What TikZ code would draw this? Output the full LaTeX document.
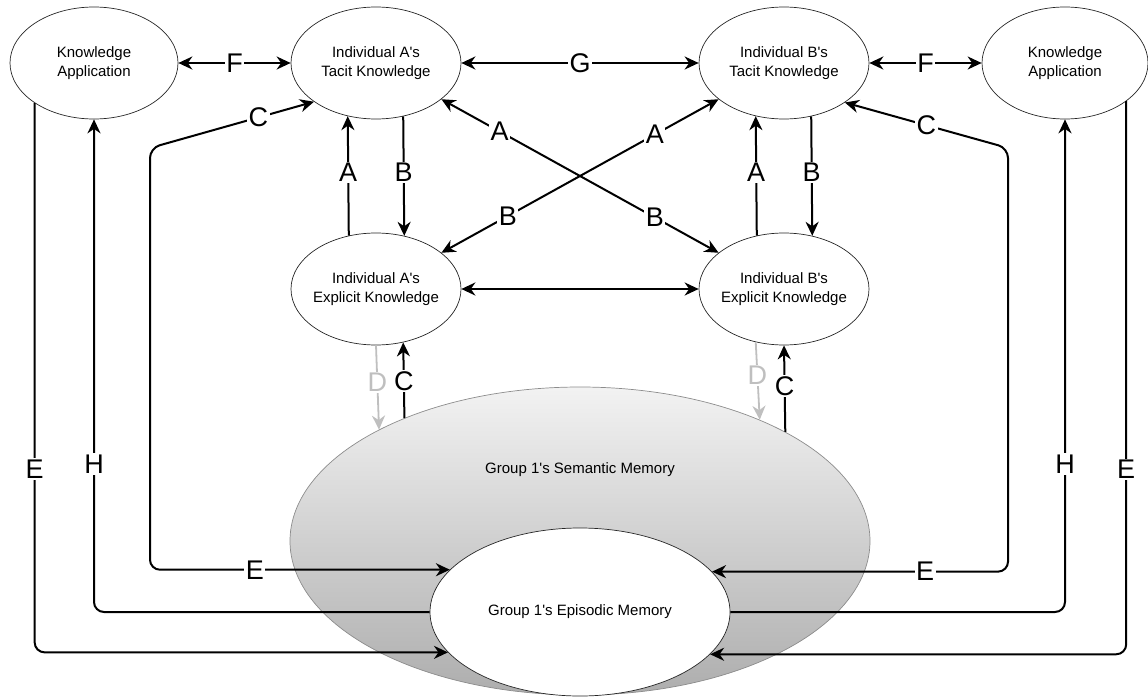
\documentclass[tikz,border=0pt]{standalone}
\usepackage{fontspec}
\setmainfont{Liberation Sans}
\usetikzlibrary{arrows.meta,shapes.geometric}
\newcommand{\apos}{\textquotesingle}
\begin{document}
\begin{tikzpicture}[x=1pt,y=-1pt,
  >={Stealth[length=14pt,width=13pt,inset=4.5pt]},
  ell/.style={ellipse,draw=black!85,line width=0.7pt,inner xsep=-20pt,inner ysep=0pt,align=center,
    font=\fontsize{15}{19}\selectfont,minimum width=170pt,minimum height=112pt},
  conn/.style={line width=2pt,rounded corners=10pt},
  lbl/.style={font=\fontsize{27}{27}\selectfont,fill=white,inner sep=1.5pt,sharp corners},
  dconn/.style={line width=1.8pt,draw=black!25},
  dlbl/.style={lbl,text=black!25}]
\useasboundingbox (0,0) rectangle (1148,698);

% big memory ellipses
\node[ellipse,draw=black!45,line width=0.7pt,top color=black!5,bottom color=black!32,
      minimum width=580pt,minimum height=308pt,inner sep=0pt] (sem) at (580,541) {};
\node[font=\fontsize{15}{19}\selectfont] (semlabel) at (580,470) {Group 1\apos s Semantic Memory};
\node[ell,fill=white,minimum width=300pt,minimum height=168pt] (ep) at (580,612) {Group 1\apos s Episodic Memory};

% knowledge nodes
\node[ell,minimum width=168pt] (kal) at (94,63) {Knowledge\\Application};
\node[ell] (ta) at (376,63) {Individual A\apos s\\Tacit Knowledge};
\node[ell] (tb) at (784,63) {Individual B\apos s\\Tacit Knowledge};
\node[ell,minimum width=166pt] (kar) at (1065,63) {Knowledge\\Application};
\node[ell] (ea) at (376,289) {Individual A\apos s\\Explicit Knowledge};
\node[ell] (eb) at (784,289) {Individual B\apos s\\Explicit Knowledge};

% horizontal links
\draw[conn,<->] (kal) -- node[lbl]{F} (ta);
\draw[conn,<->] (tb) -- node[lbl]{F} (kar);
\draw[conn,<->] (ta) -- node[lbl]{G} (tb);
\draw[conn,<->] (ea) -- (eb);

% vertical A/B
\draw[conn,->] (ea.117.9) -- node[lbl,pos=0.53]{A} (ta.242.1);
\draw[conn,->] (ta.297.9) -- node[lbl,pos=0.47]{B} (ea.62.1);
\draw[conn,->] (eb.117.9) -- node[lbl,pos=0.53]{A} (tb.242.1);
\draw[conn,->] (tb.297.9) -- node[lbl,pos=0.47]{B} (eb.62.1);

% crossing links
\draw[conn,<->] (ta) -- node[lbl,pos=0.21]{A} node[lbl,pos=0.77]{B} (eb);
\draw[conn,<->] (ea) -- node[lbl,pos=0.24]{B} node[lbl,pos=0.77]{A} (tb);

% left side routes
\coordinate (xl1) at (150,148);
\draw[conn,<->] (ta.212.4) -- node[lbl,pos=0.34]{C} (xl1) -- (xl1 |- ep.162.1) -- node[lbl,pos=0.35]{E} (ep.162.1);
\draw[conn,->] (ep.west) -- (ep.west -| kal.south) -- node[lbl,pos=0.3]{H} (kal.south);
\draw[conn,->] (kal.214.1) -- node[lbl,pos=0.666]{E} (kal.214.1 |- ep.197.9) -- (ep.197.9);

% right side routes
\coordinate (xr1) at (1008,148);
\draw[conn,<->] (tb.327.6) -- node[lbl,pos=0.5]{C} (xr1) -- (xr1 |- ep.17.9) -- node[lbl,pos=0.28]{E} (ep.17.9);
\draw[conn,->] (ep.east) -- (ep.east -| kar.south) -- node[lbl,pos=0.3]{H} (kar.south);
\draw[conn,->] (kar.328.1) -- node[lbl,pos=0.666]{E} (kar.328.1 |- ep.342.1) -- (ep.342.1);

% explicit <-> semantic
\draw[dconn,->] (ea.south) -- node[dlbl,pos=0.44]{D} (sem.151.8);
\draw[conn,->] (sem.145.2) -- node[lbl,pos=0.49]{C} (ea.297.9);
\draw[dconn,->] (eb.242.1) -- node[dlbl,pos=0.43]{D} (sem.34.8);
\draw[conn,->] (sem.28.2) -- node[lbl,pos=0.53]{C} (eb.south);
\end{tikzpicture}
\end{document}
